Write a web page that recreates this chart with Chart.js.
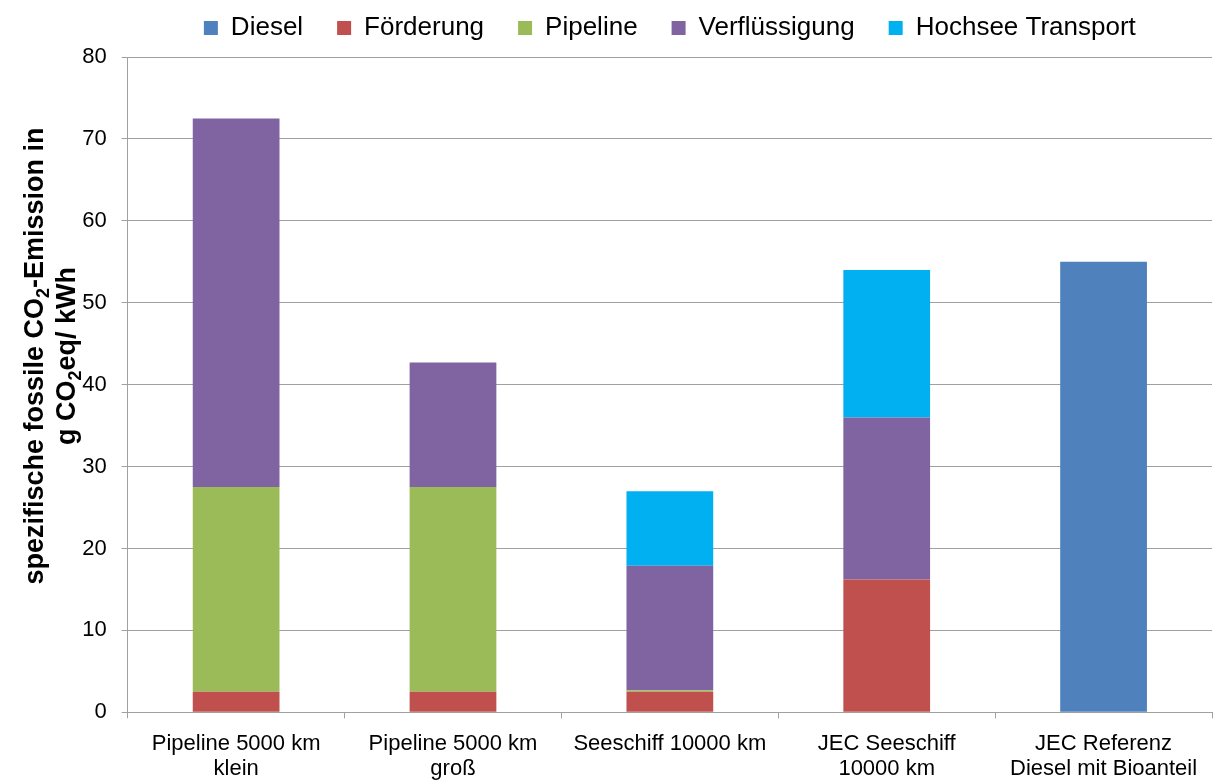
<!DOCTYPE html>
<html>
<head>
<meta charset="utf-8">
<script src="https://cdn.jsdelivr.net/npm/chart.js@4.4.1/dist/chart.umd.min.js"></script>
<style>
    body { margin: 0; background: #fff; }
    #box { width: 1214px; height: 781px; position: relative; }
</style>
</head>
<body>
<div id="box"><canvas id="emission_graph"></canvas></div>
<script>
const categories = [
    ['Pipeline 5000 km', 'klein'],
    ['Pipeline 5000 km', 'groß'],
    'Seeschiff 10000 km',
    ['JEC Seeschiff', '10000 km'],
    ['JEC Referenz', 'Diesel mit Bioanteil']
];
const diesel = [null, null, null, null, 55];
const foerderung = [2.5, 2.5, 2.5, 16.2, null];
const pipeline = [25, 25, 0.2, null, null];
const verfluessigung = [45, 15.2, 15.2, 19.8, null];
const hochsee = [null, null, 9.1, 18, null];
const yTicks = [0, 10, 20, 30, 40, 50, 60, 70, 80];

// y-axis title, drawn by hand so the "2" can be a real subscript
const yTitleLines = [
    [['spezifische fossile CO', false], ['2', true], ['-Emission in', false]],
    [['g CO', false], ['2', true], ['eq/ kWh', false]]
];

const FONT = "'Liberation Sans', Arial, sans-serif";

const yTitlePlugin = {
    id: 'yTitle',
    afterDraw(chart) {
        const ctx = chart.ctx;
        const size = 27, subSize = 18;
        const baselines = [43, 75];
        const centerY = 356;
        ctx.save();
        ctx.translate(0, centerY);
        ctx.rotate(-Math.PI / 2);
        ctx.fillStyle = '#000';
        ctx.textBaseline = 'alphabetic';
        ctx.textAlign = 'left';
        yTitleLines.forEach(function (parts, i) {
            let total = 0;
            parts.forEach(function (p) {
                ctx.font = 'bold ' + (p[1] ? subSize : size) + 'px ' + FONT;
                total += ctx.measureText(p[0]).width;
            });
            let x = -total / 2;
            parts.forEach(function (p) {
                ctx.font = 'bold ' + (p[1] ? subSize : size) + 'px ' + FONT;
                ctx.fillText(p[0], x, baselines[i] + (p[1] ? 6 : 0));
                x += ctx.measureText(p[0]).width;
            });
        });
        ctx.restore();
    }
};

// fixed legend band height above the plot
const legendHeight = {
    id: 'legendHeight',
    beforeInit(chart) {
        const fit = chart.legend.fit;
        chart.legend.fit = function () {
            fit.bind(chart.legend)();
            this.height = 76;
        };
    }
};

const ctx = document.getElementById('emission_graph');
const chart = new Chart(ctx, {
    type: 'bar',
    data: {
        labels: categories,
        datasets: [
            { label: 'Diesel', data: diesel, backgroundColor: '#4f81bd' },
            { label: 'Förderung', data: foerderung, backgroundColor: '#c0504d' },
            { label: 'Pipeline', data: pipeline, backgroundColor: '#9bbb59' },
            { label: 'Verflüssigung', data: verfluessigung, backgroundColor: '#8064a2' },
            { label: 'Hochsee Transport', data: hochsee, backgroundColor: '#00b0f0' },
        ]
    },
    options: {
        responsive: true,
        maintainAspectRatio: false,
        animation: false,
        layout: { padding: { top: -19, left: 0, right: 2, bottom: 0 } },
        datasets: {
            bar: { categoryPercentage: 1, barPercentage: 0.4, borderWidth: 0 }
        },
        plugins: {
            tooltip: { enabled: false },
            legend: {
                position: 'top',
                fullSize: false,
                labels: {
                    boxWidth: 14,
                    boxHeight: 14,
                    padding: 34,
                    color: '#000',
                    font: { family: FONT, size: 26 }
                }
            }
        },
        scales: {
            x: {
                stacked: true,
                offset: true,
                grid: {
                    offset: true,
                    drawOnChartArea: false,
                    drawTicks: true,
                    tickLength: 6,
                    color: '#a0a0a0'
                },
                border: { color: '#a0a0a0' },
                ticks: {
                    color: '#000',
                    padding: 13,
                    maxRotation: 0,
                    autoSkip: false,
                    font: { family: FONT, size: 22, lineHeight: 1.15 }
                },
                afterFit(scale) { scale.height = 68.7; }
            },
            y: {
                stacked: true,
                min: 0,
                max: 80,
                afterBuildTicks(scale) { scale.ticks = yTicks.map(v => ({ value: v })); },
                grid: { color: '#a0a0a0', tickLength: 6 },
                border: { color: '#a0a0a0' },
                ticks: {
                    color: '#000',
                    padding: 15,
                    font: { family: FONT, size: 22 }
                },
                afterFit(scale) { scale.width = 127.7; }
            }
        }
    },
    plugins: [yTitlePlugin, legendHeight]
});
</script>
</body>
</html>
